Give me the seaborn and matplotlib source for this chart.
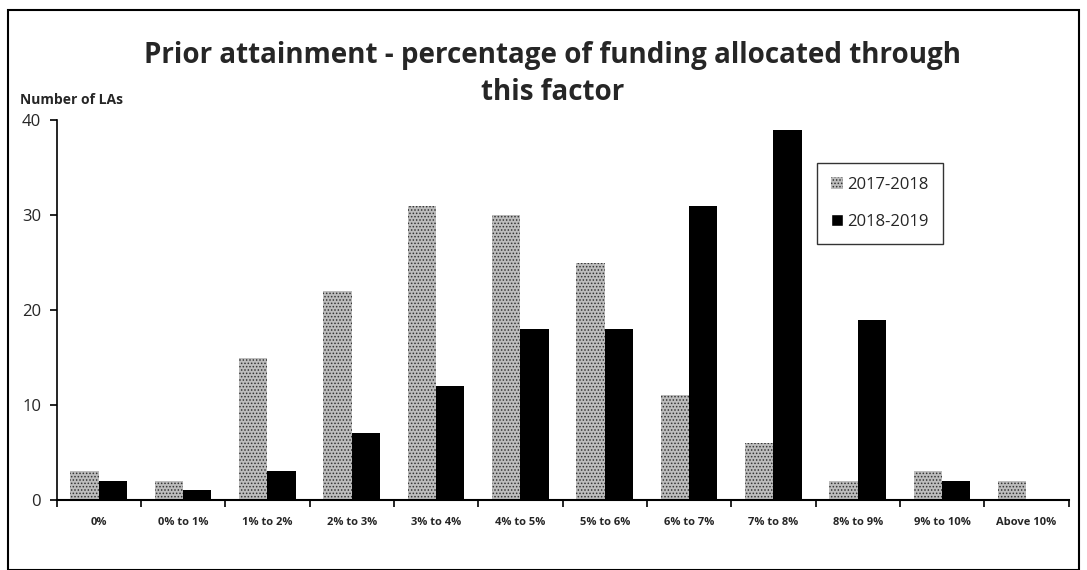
import matplotlib
matplotlib.use("Agg")
import matplotlib.pyplot as plt
import seaborn as sns
import pandas as pd
import numpy as np
from matplotlib.patches import Rectangle, Patch
from matplotlib.ticker import FixedLocator

categories = ["0%", "0% to 1%", "1% to 2%", "2% to 3%", "3% to 4%", "4% to 5%",
              "5% to 6%", "6% to 7%", "7% to 8%", "8% to 9%", "9% to 10%", "Above 10%"]
series_names = ["2017-2018", "2018-2019"]
values_2017 = [3, 2, 15, 22, 31, 30, 25, 11, 6, 2, 3, 2]
values_2018 = [2, 1, 3, 7, 12, 18, 18, 31, 39, 19, 2, 0]
y_ticks = [0, 10, 20, 30, 40]

df = pd.DataFrame({
    "band": categories * 2,
    "season": [series_names[0]] * len(categories) + [series_names[1]] * len(categories),
    "count": values_2017 + values_2018,
})

sns.set_theme(style="white")
plt.rcParams['font.family'] = ['Open Sans', 'DejaVu Sans']
plt.rcParams['hatch.color'] = '#333333'
plt.rcParams['hatch.linewidth'] = 0.7

fig = plt.figure(figsize=(10.87, 5.70), dpi=100)
ax = fig.add_axes([0.052, 0.123, 0.931, 0.666])

gray = "#bdbdbd"
palette = {series_names[0]: gray, series_names[1]: "#000000"}
sns.barplot(data=df, x="band", y="count", hue="season", order=categories,
            hue_order=series_names, palette=palette, width=0.67, ax=ax,
            saturation=1, legend=False, edgecolor="none")

n = len(categories)
for i, p in enumerate(ax.patches[:n]):
    p.set_hatch(".....")
    p.set_edgecolor("#333333")
    p.set_linewidth(0)

ax.set_xlim(-0.5, n - 0.5)
ax.set_ylim(0, 40)
ax.set_yticks(y_ticks)
ax.set_xlabel("")
ax.set_ylabel("")
for s in ["top", "right"]:
    ax.spines[s].set_visible(False)
ax.spines["left"].set_color("black")
ax.spines["bottom"].set_color("black")
ax.spines["left"].set_linewidth(1.2)
ax.spines["bottom"].set_linewidth(1.5)

ax.tick_params(axis="x", which="major", length=0, labelsize=8, pad=12)
ax.xaxis.set_minor_locator(FixedLocator(np.arange(-0.5, n, 1.0)))
ax.tick_params(axis="x", which="minor", length=5, width=1.2, color="black", direction="out", bottom=True)
ax.tick_params(axis="y", length=5, width=1.2, color="black", direction="out", left=True, labelsize=12, pad=6)
for lbl in ax.get_xticklabels():
    lbl.set_fontweight("bold")

fig.text(0.508, 0.87, "Prior attainment - percentage of funding allocated through\nthis factor",
         ha="center", va="center", fontsize=20, fontweight="bold", linespacing=1.35)
fig.text(0.018, 0.825, "Number of LAs", ha="left", va="center", fontsize=10, fontweight="bold")

handles = [Patch(facecolor=gray, hatch=".....", edgecolor="#333333", linewidth=0, label=series_names[0]),
           Patch(facecolor="black", label=series_names[1])]
leg = ax.legend(handles=handles, loc="upper left", bbox_to_anchor=(0.743, 0.91), frameon=True,
                fontsize=12, handlelength=0.7, handleheight=0.7, handletextpad=0.3,
                labelspacing=1.25, borderpad=0.85, fancybox=False)
leg.get_frame().set_edgecolor("black")
leg.get_frame().set_linewidth(1.0)

fig.patches.append(Rectangle((0.007, 0.0), 0.986, 0.983, transform=fig.transFigure,
                             fill=False, edgecolor="black", linewidth=1.5))

fig.savefig("out.png", dpi=100)
